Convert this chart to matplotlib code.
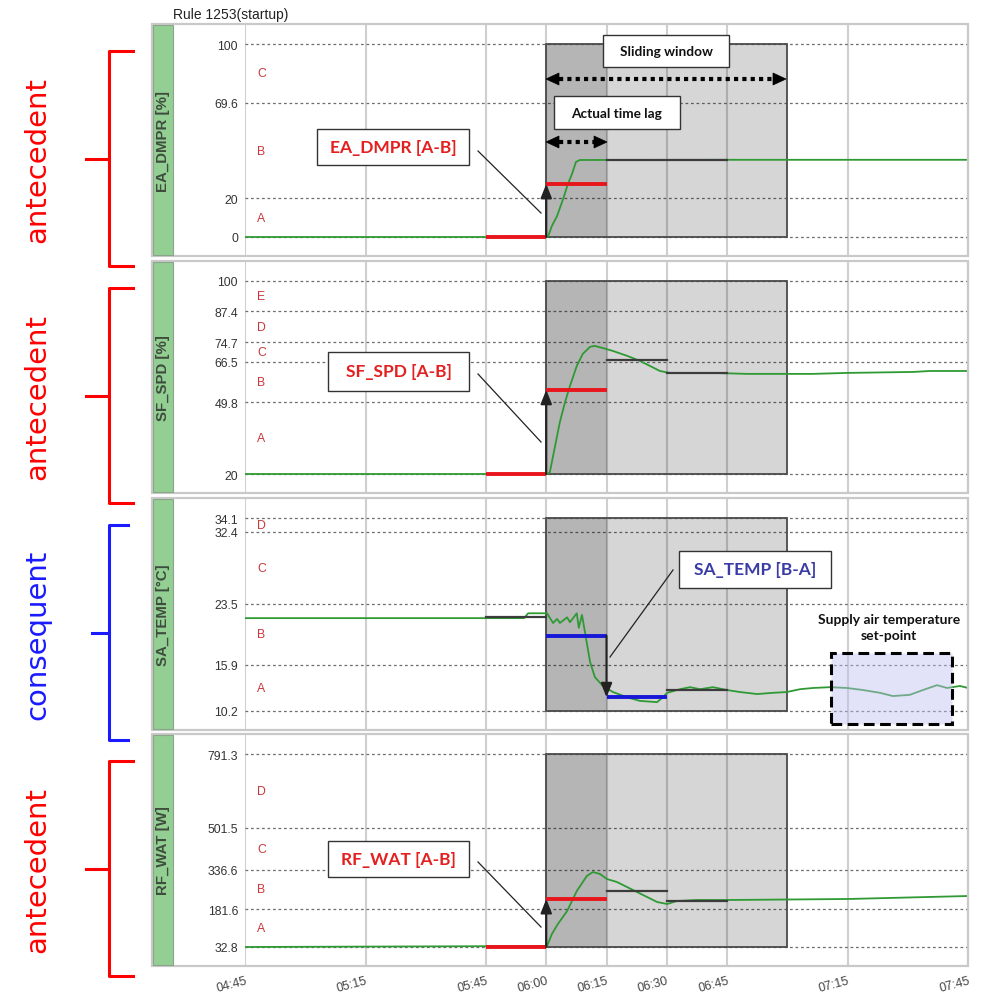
import matplotlib
matplotlib.use('Agg')
import matplotlib.pyplot as plt
from matplotlib.patches import Rectangle, Polygon
from matplotlib.lines import Line2D

# ---------------- data ----------------
x_tick_labels = ['04:45', '05:15', '05:45', '06:00', '06:15', '06:30', '06:45', '07:15', '07:45']
window_start, lag_end, window_end = '06:00', '06:15', '07:00'

panel_labels = ['EA_DMPR [%]', 'SF_SPD [%]', 'SA_TEMP [°C]', 'RF_WAT [W]']
group_labels = ['antecedent', 'antecedent', 'consequent', 'antecedent']

ea_ticks = [0, 20, 69.6, 100]
ea_zones = ['A', 'B', 'C']
ea_t = [285, 360.4, 361.4, 362.7, 364.2, 365.4, 366.4, 367.4, 368.4, 405, 465]
ea_v = [0, 0, 5.7, 10.9, 19.7, 27.5, 32.6, 38.9, 39.9, 40.0, 40.0]
ea_red = [('05:45', '06:00', 0), ('06:00', '06:15', 27.5)]
ea_gray = [('06:15', '06:45', 40.0)]

sf_ticks = [20, 49.8, 66.5, 74.7, 87.4, 100]
sf_zones = ['A', 'B', 'C', 'D', 'E']
sf_t = [285, 360.4, 360.9, 362.2, 363.4, 364.7, 365.9, 367.6, 369.1, 370.9, 372.1, 373.9,
        376.6, 380.1, 383.3, 385.8, 388.3, 390.8, 401.5, 410.0, 426.4, 434.9, 451.3, 455.5, 465]
sf_v = [20, 20, 20.8, 31.6, 41.6, 49.9, 56.5, 64.8, 69.8, 72.7, 73.1, 72.3,
        71.0, 69.0, 66.9, 64.8, 62.7, 61.9, 61.9, 61.5, 61.5, 61.9, 62.3, 62.7, 62.7]
sf_red = [('05:45', '06:00', 20), ('06:00', '06:15', 54.9)]
sf_gray = [('06:15', '06:30', 67.3), ('06:30', '06:45', 61.9)]

sa_ticks = [10.2, 15.9, 23.5, 32.4, 34.1]
sa_zones = ['A', 'B', 'C', 'D']
sa_t = [285, 354.5, 355.5, 360.2, 361.7, 362.7, 363.4, 365.2, 365.9, 367.6, 368.1, 368.9,
        369.9, 370.9, 372.1, 374.1, 376.6, 380.1, 383.3, 387.6, 388.8, 390.1, 393.3, 395.8,
        398.3, 401.5, 405.0, 408.2, 412.5, 416.4, 419.9, 423.2, 426.4, 430.6, 434.9, 438.8,
        443.1, 446.3, 450.5, 453.8, 457.3, 459.8, 463.0, 465]
sa_v = [21.7, 21.7, 22.3, 22.3, 21.1, 21.6, 21.1, 21.8, 21.2, 22.3, 20.5, 22.1,
        19.2, 16.3, 14.4, 13.3, 12.55, 11.9, 11.45, 11.3, 11.8, 12.45, 12.9, 13.15,
        12.9, 13.15, 12.8, 12.55, 12.3, 12.45, 12.55, 12.9, 13.05, 13.15, 13.05, 12.8,
        12.45, 12.05, 12.2, 12.8, 13.4, 13.05, 13.3, 13.05]
sa_blue = [('06:00', '06:15', 19.5), ('06:15', '06:30', 11.9)]
sa_gray = [('05:45', '06:00', 21.8), ('06:30', '06:45', 12.8)]

rf_ticks = [32.8, 181.6, 336.6, 501.5, 791.3]
rf_zones = ['A', 'B', 'C', 'D']
rf_t = [285, 360.2, 361.4, 362.9, 365.2, 367.6, 370.1, 371.6, 373.4, 375.1, 377.6, 380.1,
        382.6, 385.1, 387.6, 390.1, 392.5, 397.5, 405.0, 434.9, 465]
rf_v = [32.8, 36.7, 83.9, 123.2, 174.3, 252.8, 311.8, 327.5, 319.6, 300, 288.2, 268.6,
        248.9, 229.3, 209.6, 201.7, 213.5, 217.5, 217.5, 221.4, 233.2]
rf_red = [('05:45', '06:00', 32.8), ('06:00', '06:15', 221.4)]
rf_gray = [('06:15', '06:30', 252.8), ('06:30', '06:45', 213.5)]

annot_texts = ['EA_DMPR [A-B]', 'SF_SPD [A-B]', 'SA_TEMP [B-A]', 'RF_WAT [A-B]']
title = 'Rule 1253(startup)'

# ---------------- helpers ----------------
def tm(s):
    h, m = s.split(':')
    return int(h) * 60 + int(m)

W, H = 991, 995
def fx(px): return px / W
def fy(py): return 1 - py / H

fig = plt.figure(figsize=(W / 100, H / 100), dpi=100)
fig.patch.set_facecolor('white')

GREEN = '#2f9a34'
RED = '#e8161c'
BLUE = '#1717d8'
ZONE = '#c8373a'
ANN_RED = '#e3201f'
ANN_BLUE = '#3b3ba6'
SANS = ['Liberation Sans', 'DejaVu Sans']
CAL = ['Lato', 'DejaVu Sans']

panel_tops = [25, 262, 499, 735]
panel_bots = [257, 494, 731, 967]
ax_left, ax_right = 245, 968

panels = [
    (ea_ticks, ea_zones, ea_t, ea_v, ea_red, ea_gray, 'r'),
    (sf_ticks, sf_zones, sf_t, sf_v, sf_red, sf_gray, 'r'),
    (sa_ticks, sa_zones, sa_t, sa_v, sa_blue, sa_gray, 'b'),
    (rf_ticks, rf_zones, rf_t, rf_v, rf_red, rf_gray, 'r'),
]

x_ticks = [tm(s) for s in x_tick_labels]
axes = []
for i, (ticks, zones, t, v, col_segs, gray_segs, kind) in enumerate(panels):
    top, bot = panel_tops[i], panel_bots[i]
    ax = fig.add_axes([fx(ax_left), fy(bot), fx(ax_right) - fx(ax_left), (bot - top) / H])
    axes.append(ax)
    lo, hi = min(ticks), max(ticks)
    hpx = bot - top
    span = hi - lo
    scale = span / (hpx - 39)
    ax.set_ylim(lo - 19 * scale, hi + 20 * scale)
    ax.set_xlim(x_ticks[0], x_ticks[-1])
    for s in ax.spines.values():
        s.set_visible(False)
    ax.set_yticks(ticks)
    ax.set_yticklabels([('%g' % tk) for tk in ticks], fontsize=8.8, color='#333333', family=SANS)
    ax.tick_params(axis='y', length=0, pad=5)
    ax.set_xticks(x_ticks)
    ax.tick_params(axis='x', length=0)
    if i < 3:
        ax.set_xticklabels([])
    else:
        ax.set_xticklabels(x_tick_labels, rotation=15, ha='right', rotation_mode='anchor',
                           fontsize=9, color='#444444', family=SANS)
        ax.tick_params(axis='x', pad=6)
    # grids
    for xt in x_ticks:
        ax.axvline(xt, color='#cfcfcf', lw=1.5, zorder=0.5)
    for tk in ticks:
        ax.axhline(tk, color='#6e6e6e', lw=0.9, ls=(0, (2.2, 2.2)), zorder=0.6)
    # shaded window
    ws, le, we = tm(window_start), tm(lag_end), tm(window_end)
    ax.add_patch(Rectangle((ws, lo), le - ws, span, facecolor='black', alpha=0.29,
                           edgecolor='none', zorder=1))
    ax.add_patch(Rectangle((le, lo), we - le, span, facecolor='black', alpha=0.16,
                           edgecolor='none', zorder=1))
    ax.add_patch(Rectangle((ws, lo), we - ws, span, facecolor='none', edgecolor='#4a4a4a',
                           lw=1.3, zorder=1.2))
    # curve
    ax.plot(t, v, color=GREEN, lw=1.3, zorder=3)
    # gray segments
    for a, b, val in gray_segs:
        ax.plot([tm(a), tm(b)], [val, val], color='#3c3c3c', lw=1.6, zorder=3.5)
    # coloured segments
    ccol = RED if kind == 'r' else BLUE
    for a, b, val in col_segs:
        ax.plot([tm(a), tm(b)], [val, val], color=ccol, lw=2.8, zorder=4, solid_capstyle='butt')
    # transition arrow
    a0, b0, v0 = col_segs[0]
    a1, b1, v1 = col_segs[1]
    ax.annotate('', xy=(tm(a1), v1), xytext=(tm(a1), v0),
                arrowprops=dict(arrowstyle='-|>,head_length=0.7,head_width=0.28',
                                color='#222222', lw=1.5, shrinkA=0, shrinkB=0,
                                mutation_scale=12), zorder=5)
    # zone letters
    for k, z in enumerate(zones):
        mid = (ticks[k] + ticks[k + 1]) / 2
        ax.text(0.0166, mid, z, transform=ax.get_yaxis_transform(), color=ZONE,
                fontsize=8.8, family=SANS, va='center', ha='left')

    # panel frame, green strip, label
    fig.patches.append(Rectangle((fx(152), fy(bot)), fx(968) - fx(152), (bot - top) / H,
                                 transform=fig.transFigure, facecolor='none',
                                 edgecolor='#c9c9c9', lw=1.6, zorder=0.2))
    fig.patches.append(Rectangle((fx(153), fy(bot - 1)), fx(173) - fx(153), (bot - top - 2) / H,
                                 transform=fig.transFigure, facecolor='#93cf93',
                                 edgecolor='#8aa58a', lw=0.8, zorder=0.3))
    fig.text(fx(163), fy((top + bot) / 2), panel_labels[i], rotation=90, ha='center',
             va='center', fontsize=10.8, fontweight='bold', color='#3e4c3e', family=SANS)

    # left brackets
    bcol = 'red' if kind == 'r' else '#1a1aff'
    btop, bbot = top + 27, bot + 10
    bmid = (btop + bbot) / 2
    tick_r = 133 if kind == 'r' else 128
    tick_l = 86 if kind == 'r' else 92
    fig.lines.append(Line2D([fx(tick_r), fx(109), fx(109), fx(tick_r)],
                            [fy(btop), fy(btop), fy(bbot), fy(bbot)],
                            transform=fig.transFigure, color=bcol, lw=2.2))
    fig.lines.append(Line2D([fx(tick_l), fx(109)], [fy(bmid), fy(bmid)],
                            transform=fig.transFigure, color=bcol, lw=2.2))
    fig.text(fx(37), fy(bmid + 1), group_labels[i], rotation=90, ha='center', va='center',
             fontsize=21, color=bcol, family=['DejaVu Sans'])

# ---------------- annotations (figure pixel layout) ----------------
def box(x0, y0, x1, y1, **kw):
    fig.patches.append(Rectangle((fx(x0), fy(y1)), fx(x1) - fx(x0), (y1 - y0) / H,
                                 transform=fig.transFigure, **kw))

def line(x0, y0, x1, y1, **kw):
    fig.lines.append(Line2D([fx(x0), fx(x1)], [fy(y0), fy(y1)], transform=fig.transFigure, **kw))

def dbl_arrow(xa, xb, y):
    hl, hw = 13, 6
    for tip, base in [(xa, xa + hl), (xb, xb - hl)]:
        fig.patches.append(Polygon([(fx(tip), fy(y)), (fx(base), fy(y - hw)), (fx(base), fy(y + hw))],
                                   closed=True, transform=fig.transFigure, facecolor='black',
                                   edgecolor='black', lw=0.5, zorder=6))
    line(xa + hl, y, xb - hl, y, color='black', lw=3.0, ls=(0, (1, 1)),
         solid_capstyle='butt', dash_capstyle='butt', zorder=6)

ann_boxes = [(317, 130, 469, 166), (328, 353, 469, 392), (679, 552, 831, 589), (328, 842, 469, 878)]
ann_leaders = [(478, 152, 541, 214), (478, 375, 541, 443), (673, 571, 610, 658), (478, 863, 541, 928)]
for k, (bx, ld) in enumerate(zip(ann_boxes, ann_leaders)):
    box(*bx, facecolor='white', edgecolor='#333333', lw=1.0, zorder=6)
    fig.text(fx((bx[0] + bx[2]) / 2), fy((bx[1] + bx[3]) / 2), annot_texts[k], ha='center',
             va='center', fontsize=12.5, fontweight='bold',
             color=ANN_BLUE if k == 2 else ANN_RED, family=CAL, zorder=7)
    line(*ld, color='#222222', lw=0.9, zorder=6)

# Sliding window / actual time lag
box(603, 36, 729, 68, facecolor='white', edgecolor='#333333', lw=1.0, zorder=6)
fig.text(fx(666), fy(52), 'Sliding window', ha='center', va='center', fontsize=9.8,
         fontweight='bold', color='#111111', family=CAL, zorder=7)
dbl_arrow(546, 786, 80)
box(554, 97, 680, 130, facecolor='white', edgecolor='#333333', lw=1.0, zorder=6)
fig.text(fx(617), fy(113.5), 'Actual time lag', ha='center', va='center', fontsize=9.8,
         fontweight='bold', color='#111111', family=CAL, zorder=7)
dbl_arrow(546, 607, 143)

# Supply air temperature set-point
fig.text(fx(889), fy(628), 'Supply air temperature\nset-point', ha='center', va='center',
         fontsize=10, fontweight='bold', color='#111111', family=CAL, linespacing=1.35, zorder=7)
box(831, 654, 952, 725, facecolor=(0.75, 0.75, 0.94, 0.45), edgecolor='black', lw=2.2,
    ls=(0, (3.5, 1.8)), zorder=6)

fig.text(fx(173), fy(15), title, ha='left', va='center', fontsize=10, color='#222222', family=SANS)

fig.savefig('out.png', dpi=100)
